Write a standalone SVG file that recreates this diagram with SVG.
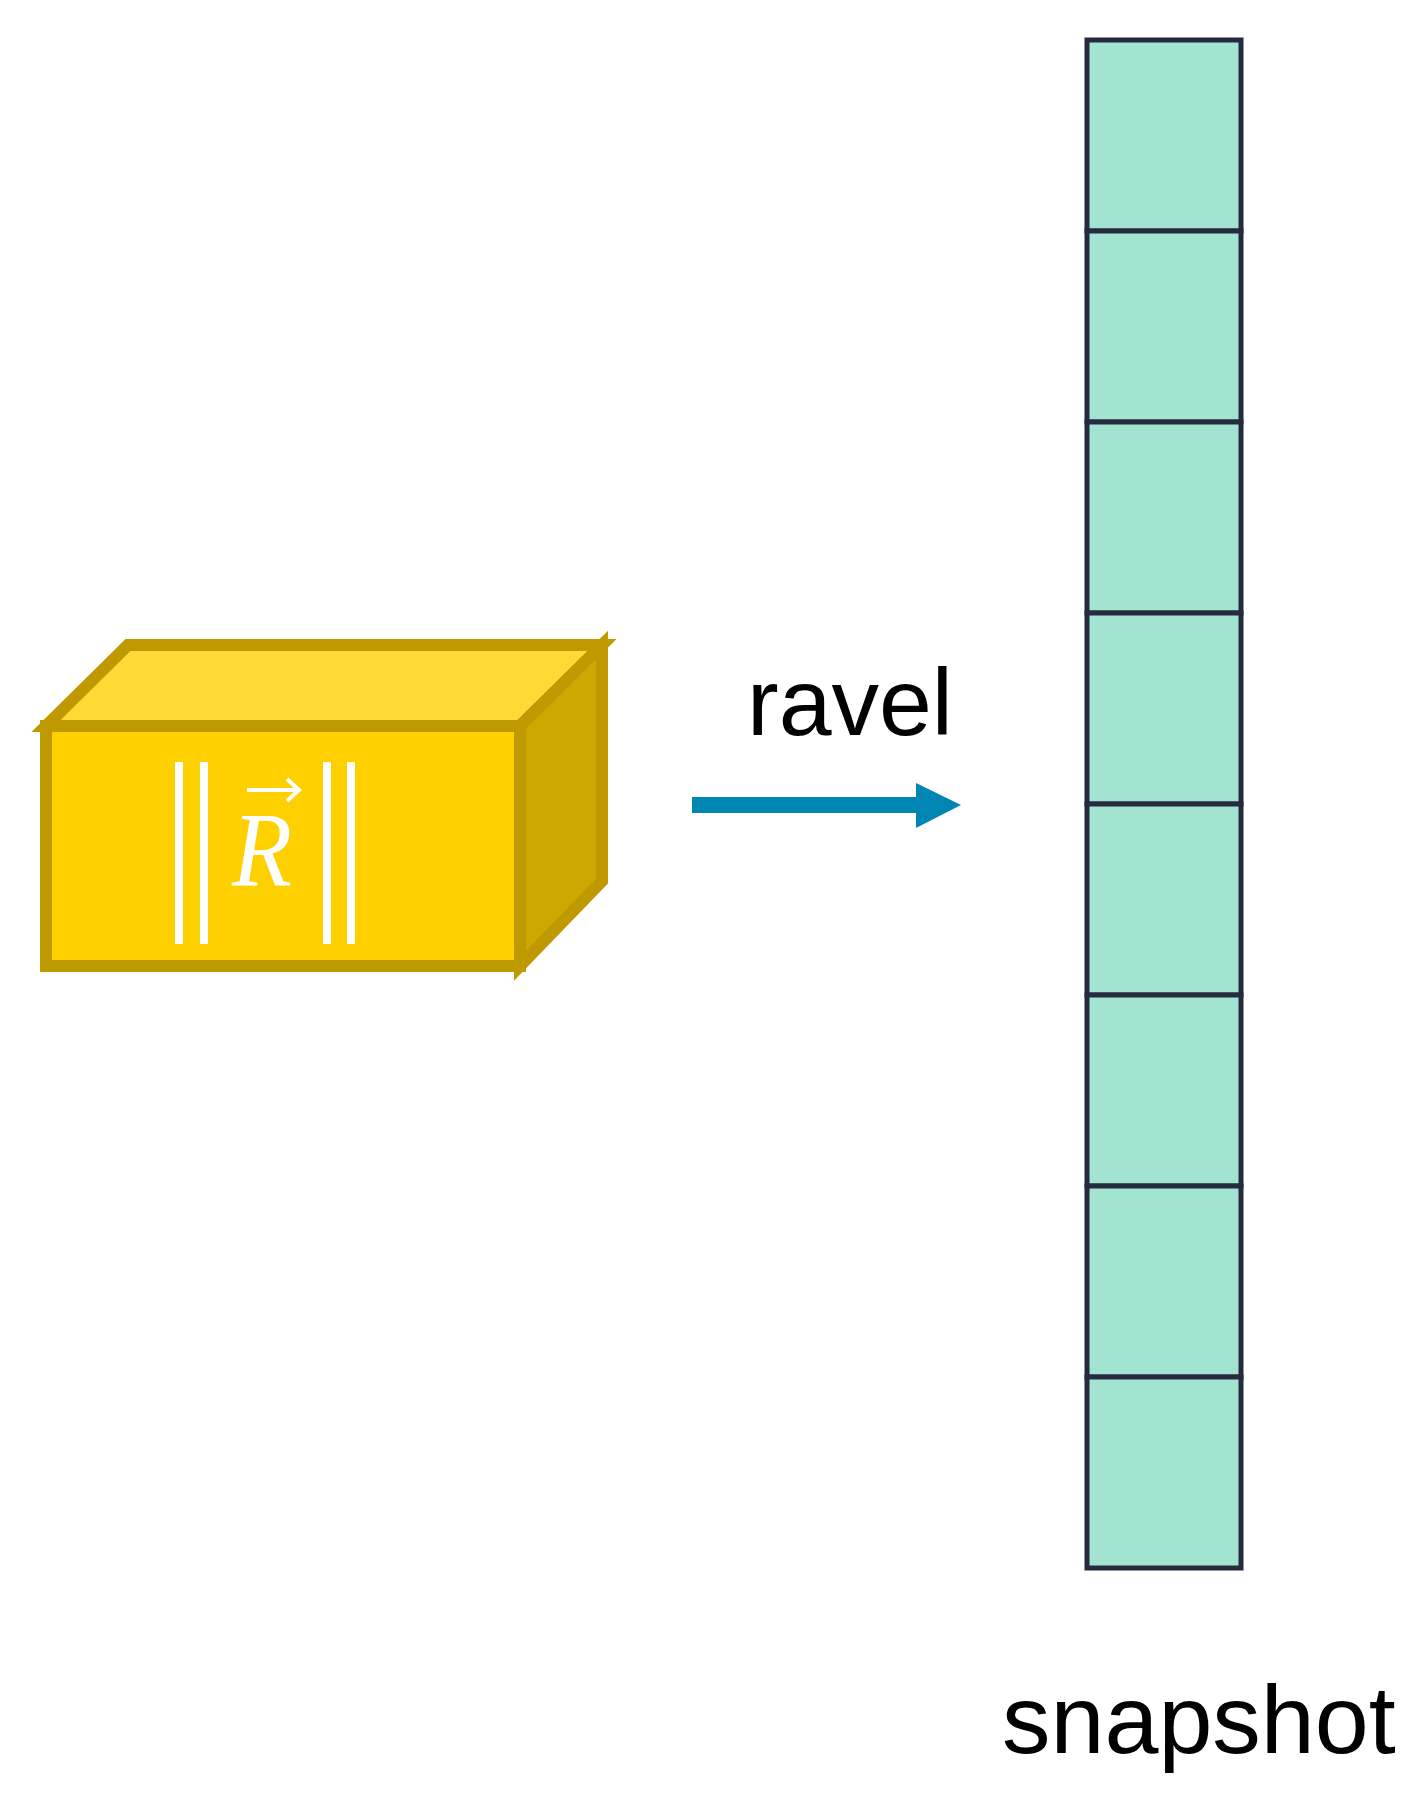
<svg xmlns="http://www.w3.org/2000/svg" width="1427" height="1806" viewBox="0 0 1427 1806">
<style>
.cell{fill:#A3E3D2;stroke:#262A3E;stroke-width:5}
.lbl{font-family:"Liberation Sans",Arial,sans-serif;fill:#000}
.bar{stroke:#fff;stroke-width:8}
</style>
<rect width="1427" height="1806" fill="#fff"/>
<g id="tensor">
<polygon points="46,726 128,645 602,645 520,726" fill="#FFD935" stroke="#BF9900" stroke-width="12" stroke-linejoin="miter"/>
<polygon points="520,726 602,645 602,881 520,966" fill="#CCA800" stroke="#BF9900" stroke-width="12"/>
<rect x="46" y="726" width="474" height="240" fill="#FFD000" stroke="#BF9900" stroke-width="12"/>
<line class="bar" x1="179" y1="762" x2="179" y2="944"/>
<line class="bar" x1="204" y1="762" x2="204" y2="944"/>
<line class="bar" x1="327" y1="762" x2="327" y2="944"/>
<line class="bar" x1="351" y1="762" x2="351" y2="944"/>
<text x="232" y="885" font-family="Liberation Serif,serif" font-style="italic" font-size="105" fill="#fff" textLength="60" lengthAdjust="spacingAndGlyphs">R</text>
<line x1="247" y1="790" x2="298" y2="790" stroke="#fff" stroke-width="4"/>
<polyline points="287,779 299,790 287,801" fill="none" stroke="#fff" stroke-width="4"/>
</g>
<g id="connectors">
<rect x="692" y="797" width="228" height="16" fill="#0086B3"/>
<polygon points="916,783 961,805 916,828" fill="#0086B3"/>
</g>
<text class="lbl" x="747" y="735" font-size="95">ravel</text>
<g id="snapshot">
<rect class="cell" x="1087" y="40" width="154" height="191"/>
<rect class="cell" x="1087" y="231" width="154" height="191"/>
<rect class="cell" x="1087" y="422" width="154" height="191"/>
<rect class="cell" x="1087" y="613" width="154" height="191"/>
<rect class="cell" x="1087" y="804" width="154" height="191"/>
<rect class="cell" x="1087" y="995" width="154" height="191"/>
<rect class="cell" x="1087" y="1186" width="154" height="191"/>
<rect class="cell" x="1087" y="1377" width="154" height="191"/>
<text class="lbl" x="1002" y="1753" font-size="97">snapshot</text>
</g>
</svg>
